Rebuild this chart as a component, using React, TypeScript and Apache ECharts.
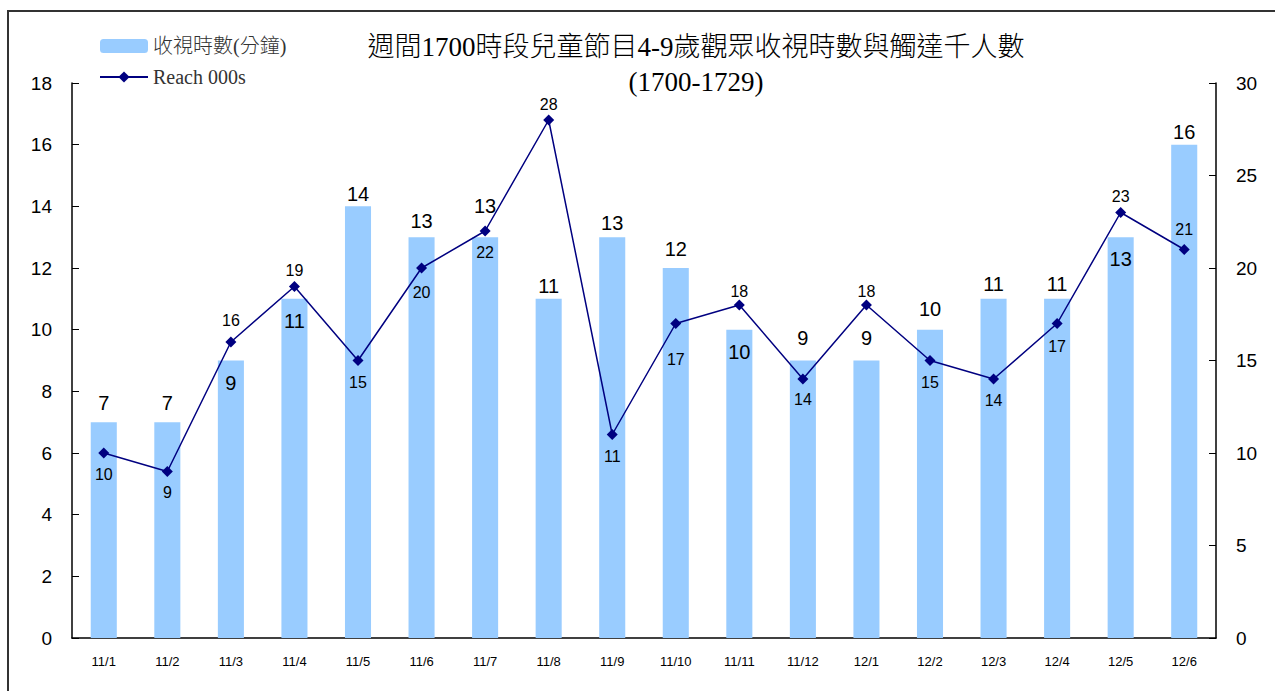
import React, { useEffect, useRef } from "react";
import * as echarts from "echarts";

const categories = ["11/1","11/2","11/3","11/4","11/5","11/6","11/7","11/8","11/9","11/10","11/11","11/12","12/1","12/2","12/3","12/4","12/5","12/6"];
const viewingMinutes = [7,7,9,11,14,13,13,11,13,12,10,9,9,10,11,11,13,16];
const reach000s = [10,9,16,19,15,20,22,28,11,17,18,14,18,15,14,17,23,21];
const barLabelInside = [2,3,10,16];
const lineLabelTop = [2,3,7,10,12,16,17];
// label offsets (px) as placed in the reference
const barLabelDistance = [9,9,12,12,2,6,21,3,4,9,12,13,13,11,5,5,12,3];
const lineLabelDistance = [8,7,8,3,8,11,8,2,8,22,0,7,0,8,8,9,3,7];
const leftTicks = { min: 0, max: 18, interval: 2 };
const rightTicks = { min: 0, max: 30, interval: 5 };

export default function App() {
  const ref = useRef<HTMLDivElement>(null);
  useEffect(() => {
    const chart = echarts.init(ref.current!, null, { renderer: "svg" });
    const sans = "'Liberation Sans', Arial, sans-serif";
    const serif = "'Liberation Serif', 'Noto Sans CJK TC', serif";
    chart.setOption({
      animation: false,
      backgroundColor: "#fff",
      title: {
        text: "週間1700時段兒童節目4-9歲觀眾收視時數與觸達千人數\n(1700-1729)",
        left: 691,
        textAlign: "center",
        top: 24,
        textStyle: { fontFamily: serif, fontSize: 27, fontWeight: 300, color: "#000", lineHeight: 35 },
      },
      legend: {
        left: 94,
        top: 31,
        orient: "vertical",
        itemGap: 11,
        itemWidth: 48,
        itemHeight: 14,
        textStyle: { fontFamily: serif, fontSize: 20, fontWeight: 300, color: "#333" },
        data: [
          { name: "收視時數(分鐘)" },
          { name: "Reach 000s" },
        ],
      },
      graphic: [
        { type: "rect", shape: { x: 8, y: 11, width: 1300, height: 720 }, style: { fill: "none", stroke: "#333", lineWidth: 2 }, silent: true },
      ],
      grid: { left: 72, right: 59, top: 83, bottom: 53 },
      xAxis: {
        type: "category",
        data: categories,
        axisLine: { lineStyle: { color: "#000", width: 1.5 } },
        axisTick: { inside: true, length: 6, lineStyle: { color: "#000" } },
        axisLabel: { fontFamily: sans, fontSize: 13, color: "#000", margin: 17 },
      },
      yAxis: [
        {
          type: "value",
          ...leftTicks,
          position: "left",
          splitLine: { show: false },
          axisLine: { show: true, lineStyle: { color: "#000", width: 1.5 } },
          axisTick: { show: true, inside: true, length: 7, lineStyle: { color: "#000" } },
          axisLabel: { fontFamily: sans, fontSize: 19, color: "#000", margin: 20 },
        },
        {
          type: "value",
          ...rightTicks,
          position: "right",
          splitLine: { show: false },
          axisLine: { show: true, lineStyle: { color: "#000", width: 1.5 } },
          axisTick: { show: true, inside: true, length: 7, lineStyle: { color: "#000" } },
          axisLabel: { fontFamily: sans, fontSize: 19, color: "#000", margin: 20 },
        },
      ],
      series: [
        {
          name: "收視時數(分鐘)",
          type: "bar",
          yAxisIndex: 0,
          barWidth: "41%",
          itemStyle: { color: "#99CCFF" },
          data: viewingMinutes.map((v, i) => ({
            value: v,
            label: barLabelInside.includes(i)
              ? { position: "insideTop", distance: barLabelDistance[i] }
              : { position: "top", distance: barLabelDistance[i] },
          })),
          label: { show: true, fontFamily: sans, fontSize: 20, color: "#000" },
        },
        {
          name: "Reach 000s",
          type: "line",
          yAxisIndex: 1,
          symbol: "diamond",
          symbolSize: 11,
          lineStyle: { color: "#000080", width: 1.5 },
          itemStyle: { color: "#000080" },
          data: reach000s.map((v, i) => ({
            value: v,
            label: { position: lineLabelTop.includes(i) ? "top" : "bottom", distance: lineLabelDistance[i] },
          })),
          label: { show: true, fontFamily: sans, fontSize: 16, color: "#000" },
        },
      ],
    });
    return () => chart.dispose();
  }, []);
  return <div ref={ref} style={{ position: "fixed", left: 0, top: 0, width: 1275, height: 691 }} />;
}
